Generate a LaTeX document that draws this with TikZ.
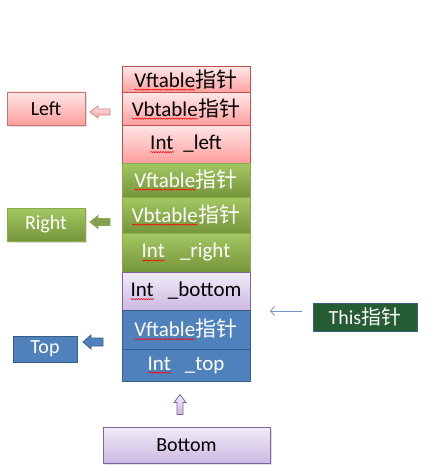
\documentclass[tikz,border=0pt]{standalone}
\usepackage{fontspec}
\setmainfont{Carlito}
\newfontfamily\cjk{Noto Sans CJK SC}
\usetikzlibrary{positioning,shadows,decorations.pathmorphing,arrows.meta}

\definecolor{redtop}{HTML}{FFE6E6}
\definecolor{redbot}{HTML}{FF9E9E}
\definecolor{redline}{HTML}{C0504D}
\definecolor{greentop}{HTML}{A3C862}
\definecolor{greenbot}{HTML}{76953B}
\definecolor{greenline}{HTML}{8AAA4C}
\definecolor{purptop}{HTML}{F1ECF8}
\definecolor{purpbot}{HTML}{CBB9E2}
\definecolor{purpline}{HTML}{8064A2}
\definecolor{bluefill}{HTML}{4F81BD}
\definecolor{blueline}{HTML}{385D8A}
\definecolor{thisgreen}{HTML}{265C33}
\definecolor{ptrblue}{HTML}{6F94CF}

% red squiggle under a word
\newsavebox\wavybox
\newcommand\wavy[1]{\sbox\wavybox{#1}\rlap{\usebox\wavybox}%
  \tikz[baseline=0pt]\draw[red,line width=.5pt,decorate,decoration={snake,amplitude=.6pt,segment length=2.4pt}]
  (0pt,-2.5pt) -- (\the\wd\wavybox,-2.5pt);}
\newcommand\zz{{\cjk 指针}}

\tikzset{
  cell/.style={draw, line width=1pt, minimum width=128pt, inner sep=0pt, outer sep=0pt,
    font=\fontsize{21}{24}\selectfont},
  redcell/.style={cell, draw=redline, top color=redtop, bottom color=redbot, text=black},
  greencell/.style={cell, draw=greenline, top color=greentop, bottom color=greenbot, text=white},
  purpcell/.style={cell, draw=purpline, top color=purptop, bottom color=purpbot, text=black},
  bluecell/.style={cell, draw=blueline, fill=bluefill, text=white},
  sidebox/.style={draw, line width=.8pt, inner sep=0pt},
  boxshadow/.style={drop shadow={opacity=.25,shadow xshift=1.5pt,shadow yshift=-1.5pt}},
  pics/blkarrow/.style args={#1/#2}{code={
    \path[pic actions] (-10,0) -- (-2,-#1) -- (-2,-#2) -- (10,-#2) -- (10,#2) -- (-2,#2) -- (-2,#1) -- cycle;}}
}

\begin{document}
\begin{tikzpicture}[x=1pt, y=-1pt, font=\fontsize{20}{23}\selectfont]
\useasboundingbox (0,0) rectangle (437,476);

%stack
\node[redcell, minimum height=26pt] (rvf) at (186,80) {\wavy{Vftable}\zz};
\node[redcell, minimum height=32pt, below=0pt of rvf] (rvb) {\wavy{Vbtable}\zz};
\node[redcell, minimum height=38pt, below=0pt of rvb] (rint) {\wavy{Int}\hspace{.45em}\_left};
\node[greencell, minimum height=34pt, below=0pt of rint] (gvf) {\wavy{Vftable}\zz};
\node[greencell, minimum height=36pt, below=0pt of gvf] (gvb) {\wavy{Vbtable}\zz};
\node[greencell, minimum height=39pt, below=0pt of gvb] (gint) {\wavy{Int}\hspace{.7em}\_right};
\node[purpcell, minimum height=38pt, below=0pt of gint] (pint) {\wavy{Int}\hspace{.65em}\_bottom};
\node[bluecell, minimum height=39pt, below=0pt of pint] (bvf) {\wavy{Vftable}\zz};
\node[bluecell, minimum height=32pt, below=0pt of bvf] (bint) {\wavy{Int}\hspace{.65em}\_top};

%side boxes
\node[sidebox, boxshadow, draw=redline!80, top color=redtop, bottom color=redbot,
  minimum width=78pt, minimum height=33pt] (left) at (46,108.5) {Left};
\node[sidebox, boxshadow, draw=greenline, top color=greentop, bottom color=greenbot, text=white,
  minimum width=78pt, minimum height=33pt] (right) at (46,224.5) {Right};
\node[sidebox, draw=blueline, fill=bluefill, text=white,
  minimum width=64pt, minimum height=26pt] (top) at (45,349) {Top};
\node[sidebox, boxshadow, draw=purpline, top color=purptop, bottom color=purpbot,
  minimum width=167pt, minimum height=36pt] (bottom) at (186.5,445) {Bottom};
\node[sidebox, line width=1pt, draw=blueline, fill=thisgreen, text=white,
  minimum width=104pt, minimum height=28pt] (this) at (365,317) {This\zz};

%arrows
\pic[draw=redline!70, line width=.8pt, top color=redtop, bottom color=redbot] (larr) at (100,112) {blkarrow=6/3};
\pic[draw=greenline, line width=.8pt, fill=greenbot!90] (rarr) at (100,222) {blkarrow=6.5/3.5};
\pic[draw=blueline, line width=.8pt, fill=bluefill] (tarr) at (93,342) {blkarrow=7/4};
\pic[rotate=-90, draw=purpline, line width=.8pt, top color=purptop, bottom color=purpbot] (barr) at (180,404.5) {blkarrow=6/3};
\coordinate (ptr) at (270,311);
\draw[ptrblue, line width=.8pt, -{Straight Barb[length=4pt,width=9pt]}]
  ([xshift=-11pt,yshift=6pt]this.west) -- (ptr);
\end{tikzpicture}
\end{document}
